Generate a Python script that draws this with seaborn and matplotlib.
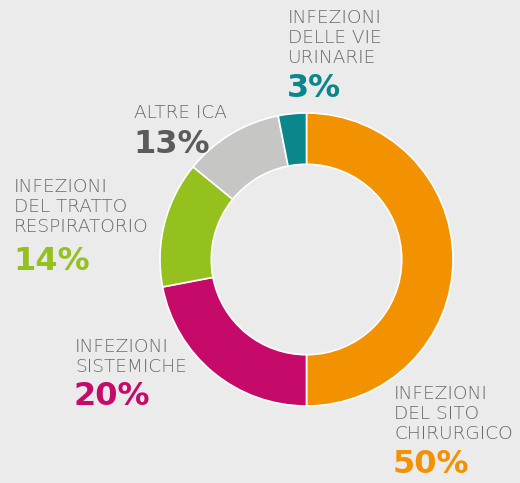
import matplotlib
matplotlib.use("Agg")
import matplotlib.pyplot as plt
import seaborn as sns

# ── data ──────────────────────────────────────────────────────────────────────
categories = ["INFEZIONI\nDEL SITO\nCHIRURGICO", "INFEZIONI\nSISTEMICHE",
              "INFEZIONI\nDEL TRATTO\nRESPIRATORIO", "ALTRE ICA",
              "INFEZIONI\nDELLE VIE\nURINARIE"]
# slice sizes as drawn in the original ring
shares = [50, 22, 13.9, 11.0, 3.1]
pct_labels = ["50%", "20%", "14%", "13%", "3%"]
colors = ["#f39200", "#c60a6a", "#95c11f", "#c6c6c5", "#0b878b"]
pct_colors = ["#f39200", "#c60a6a", "#95c11f", "#5b5b5b", "#0b878b"]

BG = "#ebebeb"
W, H = 520, 483
CX, CY, R = 306.5, 259.5, 146.5   # donut centre / radius in pixels

sns.set_style("white")
plt.rcParams["font.family"] = ["DejaVu Sans"]

fig = plt.figure(figsize=(W / 100, H / 100), dpi=100, facecolor=BG)
ax = fig.add_axes([0, 0, 1, 1])
ax.set_facecolor(BG)

ax.pie(shares, colors=colors, startangle=90, counterclock=False, radius=1,
       wedgeprops=dict(width=0.35, edgecolor="white", linewidth=1.2))

ax.set_xlim(-CX / R, (W - CX) / R)
ax.set_ylim(-(H - CY) / R, CY / R)
ax.set_aspect("equal")
ax.axis("off")


def px(x, y):
    return (x - CX) / R, (CY - y) / R


# label block: (x, top of first line, baseline of percentage)
positions = [(394, 385, 473), (75, 338, 405), (14, 178, 270),
             (134, 104, 153), (288, 9, 97)]

for name, pct, pc, (x, ytop, ybase) in zip(categories, pct_labels,
                                           pct_colors, positions):
    ax.text(*px(x, ytop), name, ha="left", va="top", fontsize=13.3,
            color="#696969", linespacing=1.13, fontweight="light")
    ax.text(*px(x - 1, ybase), pct, ha="left", va="baseline", fontsize=23,
            color=pc, fontweight="bold")

plt.savefig("out.png", dpi=100, facecolor=BG)
plt.close()
